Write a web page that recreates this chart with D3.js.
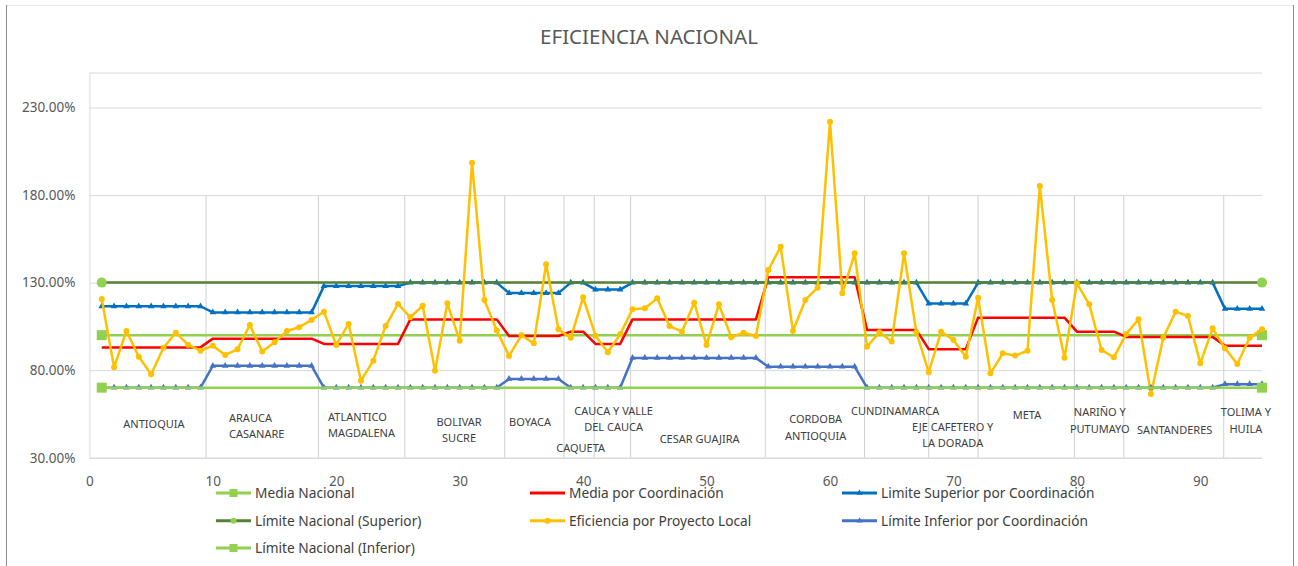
<!DOCTYPE html>
<html>
<head>
  <meta charset="utf-8">
  <title>Eficiencia Nacional</title>
  <script src="https://d3js.org/d3.v7.min.js"></script>
  <style>
    html, body { margin: 0; height: 100%; overflow: hidden; background: #fff; }
    #chart { width: 1298px; height: 566px; }
    text { font-family: "Noto Sans", "Open Sans", sans-serif; }
  </style>
</head>
<body>
  <div id="chart"></div>
  <script>
    // Regions (coordinaciones), number of projects in each, and step values
    const regions = ['ANTIOQUIA', 'ARAUCA CASANARE', 'ATLANTICO MAGDALENA', 'BOLIVAR SUCRE', 'BOYACA',
      'CAQUETA', 'CAUCA Y VALLE DEL CAUCA', 'CESAR GUAJIRA', 'CORDOBA ANTIOQUIA', 'CUNDINAMARCA',
      'EJE CAFETERO Y LA DORADA', 'META', 'NARIÑO Y PUTUMAYO', 'SANTANDERES', 'TOLIMA Y HUILA'];
    const regionCounts = [9, 9, 7, 8, 5, 2, 3, 11, 8, 5, 4, 8, 4, 8, 4];
    const mediaCoord  = [93, 98, 95, 109, 99.5, 102, 95, 109, 133, 103, 92, 110, 102, 99, 94];
    const limSupCoord = [116.5, 113, 128, 130, 124, 130, 126, 130, 130, 130, 118, 130, 130, 130, 115];
    const limInfCoord = [70, 82.5, 70, 70, 75, 70, 70, 87, 82, 70, 70, 70, 70, 70, 72];

    // Eficiencia por Proyecto Local (projects 1..95)
    const eficiencia = [
      120.6, 81.6, 102.4, 87.7, 77.6, 92.8, 101.4, 94.4, 91.1,
      94.0, 88.7, 91.9, 105.8, 90.6, 95.9, 102.4, 104.5, 108.7,
      113.4, 94.4, 106.4, 74.0, 85.4, 105.2, 117.8,
      110.2, 116.8, 79.7, 118.2, 96.8, 198.5, 120.1, 102.6,
      88.1, 99.9, 95.3, 140.5, 103.3,
      98.5, 121.6,
      99.7, 90.2, 100.5,
      114.8, 115.3, 121.0, 105.2, 102.0, 118.5, 94.4, 117.6, 98.8, 101.4, 99.5,
      137.2, 150.5, 102.4, 120.1, 127.1, 221.9, 123.9, 146.7,
      93.4, 101.6, 96.3, 146.7, 101.6,
      78.8, 102.0, 97.2, 87.7,
      121.4, 78.2, 89.6, 88.3, 91.1, 185.2, 120.1, 87.1,
      129.6, 117.6, 91.5, 87.3,
      100.7, 109.1, 66.4, 98.5, 113.4, 110.9, 83.9, 103.9,
      92.5, 83.5, 98.5, 103.3
    ];

    // National lines (only first and last project)
    const nacionalX = [1, 95];
    const mediaNacional = [100, 100];
    const limNacSup = [130, 130];
    const limNacInf = [70, 70];

    // Region separators and label anchors (data units)
    const separators = [9.45, 18.55, 25.55, 33.65, 38.45, 40.9, 43.85, 54.75, 62.8, 68, 72, 79.8, 83.8, 91.9];
    const regionLabels = [
      { lines: ['ANTIOQUIA'], x: 5.23, y: 47.0, anchor: 'middle' },
      { lines: ['ARAUCA', 'CASANARE'], x: 11.31, y: 50.6, anchor: 'start' },
      { lines: ['ATLANTICO', 'MAGDALENA'], x: 19.34, y: 51.0, anchor: 'start' },
      { lines: ['BOLIVAR', 'SUCRE'], x: 29.95, y: 48.3, anchor: 'middle' },
      { lines: ['BOYACA'], x: 35.7, y: 48.1, anchor: 'middle' },
      { lines: ['CAQUETA'], x: 39.8, y: 33.1, anchor: 'middle' },
      { lines: ['CAUCA Y VALLE', 'DEL CAUCA'], x: 42.47, y: 54.6, anchor: 'middle' },
      { lines: ['CESAR GUAJIRA'], x: 49.44, y: 38.4, anchor: 'middle' },
      { lines: ['CORDOBA', 'ANTIOQUIA'], x: 58.84, y: 49.8, anchor: 'middle' },
      { lines: ['CUNDINAMARCA'], x: 65.28, y: 54.6, anchor: 'middle' },
      { lines: ['EJE CAFETERO Y', 'LA DORADA'], x: 69.94, y: 45.4, anchor: 'middle' },
      { lines: ['META'], x: 75.96, y: 52.1, anchor: 'middle' },
      { lines: ['NARIÑO Y', 'PUTUMAYO'], x: 81.86, y: 53.6, anchor: 'middle' },
      { lines: ['SANTANDERES'], x: 87.93, y: 43.5, anchor: 'middle' },
      { lines: ['TOLIMA Y', 'HUILA'], x: 93.69, y: 53.6, anchor: 'middle' }
    ];

    const yTicks = [30, 80, 130, 180, 230];
    const xTicks = [0, 10, 20, 30, 40, 50, 60, 70, 80, 90];

    // expand step values per project
    function expand(vals) {
      const out = [];
      vals.forEach((v, i) => { for (let k = 0; k < regionCounts[i]; k++) out.push(v); });
      return out;
    }
    const projects = d3.range(1, eficiencia.length + 1);
    const toPts = (xs, ys) => xs.map((x, i) => ({ x: x, y: ys[i] }));

    const series = [
      { name: 'Media Nacional', pts: toPts(nacionalX, mediaNacional), color: '#92D050', marker: 'square', mColor: '#92D050', mSize: 10, width: 2.5 },
      { name: 'Media por Coordinación', pts: toPts(projects, expand(mediaCoord)), color: '#FF0000', marker: null, width: 2.5 },
      { name: 'Limite Superior por Coordinación', pts: toPts(projects, expand(limSupCoord)), color: '#0070C0', marker: 'triangle', mColor: '#0070C0', mSize: 6.5, width: 2.5 },
      { name: 'Límite Nacional (Superior)', pts: toPts(nacionalX, limNacSup), color: '#548235', marker: 'circle', mColor: '#92D050', mSize: 10, width: 2.5 },
      { name: 'Eficiencia por Proyecto Local', pts: toPts(projects, eficiencia), color: '#FFC000', marker: 'circle', mColor: '#FFC000', mSize: 6, width: 2.5 },
      { name: 'Límite Inferior por Coordinación', pts: toPts(projects, expand(limInfCoord)), color: '#4472C4', marker: 'triangle', mColor: '#4472C4', mSize: 6.5, width: 2.5 },
      { name: 'Límite Nacional (Inferior)', pts: toPts(nacionalX, limNacInf), color: '#92D050', marker: 'square', mColor: '#92D050', mSize: 10, width: 2.5 }
    ];

    const W = 1298, H = 566;
    const svg = d3.select('#chart').append('svg')
      .attr('width', W).attr('height', H);

    // chart frame
    svg.append('line').attr('x1', 6).attr('x2', 1294).attr('y1', 5.5).attr('y2', 5.5).attr('stroke', '#E6E6E6');
    svg.append('line').attr('x1', 6.5).attr('x2', 6.5).attr('y1', 5).attr('y2', H).attr('stroke', '#8C8C8C');
    svg.append('line').attr('x1', 1293.5).attr('x2', 1293.5).attr('y1', 5).attr('y2', H).attr('stroke', '#8C8C8C');

    const x = d3.scaleLinear().domain([0, 95]).range([89.4, 1262]);
    const y = d3.scaleLinear().domain([30, 250]).range([457.7, 72.5]);

    // title
    svg.append('text')
      .attr('x', 649).attr('y', 43.5)
      .attr('text-anchor', 'middle')
      .attr('font-size', '20.5px')
      .attr('fill', '#595959')
      .text('EFICIENCIA NACIONAL');

    // horizontal gridlines + y labels
    const yAxis = svg.append('g')
      .attr('transform', `translate(${x(0)},0)`)
      .call(d3.axisLeft(y).tickValues(yTicks).tickFormat(d => d.toFixed(2) + '%')
        .tickSize(-(x(95) - x(0))).tickPadding(14));
    yAxis.select('.domain').attr('stroke', '#D9D9D9');
    yAxis.selectAll('.tick line').attr('stroke', '#D9D9D9');
    yAxis.selectAll('.tick text').attr('font-size', '13.5px').attr('fill', '#595959')
      .attr('font-family', '"Noto Sans", sans-serif');

    // x labels
    const xAxis = svg.append('g')
      .attr('transform', `translate(0,${y(30)})`)
      .call(d3.axisBottom(x).tickValues(xTicks).tickSize(0).tickPadding(19));
    xAxis.select('.domain').remove();
    xAxis.selectAll('.tick text').attr('font-size', '13.5px').attr('fill', '#595959')
      .attr('font-family', '"Noto Sans", sans-serif');

    // region separators
    svg.append('g').selectAll('line')
      .data(separators).join('line')
      .attr('x1', d => x(d)).attr('x2', d => x(d))
      .attr('y1', y(180)).attr('y2', y(30))
      .attr('stroke', '#D0D0D0').attr('stroke-width', 1);

    // region labels
    const lbl = svg.append('g').selectAll('text')
      .data(regionLabels).join('text')
      .attr('x', d => x(d.x)).attr('y', d => y(d.y))
      .attr('text-anchor', d => d.anchor)
      .attr('font-size', '11px')
      .attr('fill', '#404040');
    lbl.selectAll('tspan')
      .data(d => d.lines.map((t, i) => ({ t, i, x: x(d.x) })))
      .join('tspan')
      .attr('x', d => d.x)
      .attr('dy', d => d.i === 0 ? 0 : 16.5)
      .text(d => d.t);

    function markerPath(type, size) {
      if (type === 'square') return d3.symbol(d3.symbolSquare, size * size)();
      if (type === 'circle') return d3.symbol(d3.symbolCircle, Math.PI * (size / 2) * (size / 2))();
      if (type === 'triangle') return d3.symbol(d3.symbolTriangle, size * size * 0.45)();
      return null;
    }

    const line = d3.line().x(d => x(d.x)).y(d => y(d.y));

    // draw series in legend order (later on top)
    series.forEach(s => {
      const g = svg.append('g').attr('class', 'series');
      g.append('path')
        .datum(s.pts)
        .attr('d', line)
        .attr('fill', 'none')
        .attr('stroke', s.color)
        .attr('stroke-width', s.width)
        .attr('stroke-linejoin', 'round');
      if (s.marker) {
        g.selectAll('path.m')
          .data(s.pts).join('path')
          .attr('class', 'm')
          .attr('transform', d => `translate(${x(d.x)},${y(d.y)})`)
          .attr('d', markerPath(s.marker, s.mSize))
          .attr('fill', s.mColor);
      }
    });

    // legend (3 columns, row-major like Excel)
    const legCols = [216, 530, 842];
    const legRows = [493, 520.7, 548];
    const leg = svg.append('g').selectAll('g')
      .data(series).join('g')
      .attr('transform', (d, i) => `translate(${legCols[i % 3]},${legRows[Math.floor(i / 3)]})`);
    leg.append('line')
      .attr('x1', 0).attr('x2', 35).attr('y1', 0).attr('y2', 0)
      .attr('stroke', d => d.color).attr('stroke-width', 3);
    leg.filter(d => d.marker)
      .append('path')
      .attr('transform', 'translate(17.5,0)')
      .attr('d', d => markerPath(d.marker, d.marker === 'triangle' ? 6 : (d.marker === 'square' ? 8 : 6)))
      .attr('fill', d => d.mColor);
    leg.append('text')
      .attr('x', 39).attr('y', 5)
      .attr('font-size', '13.7px')
      .attr('fill', '#404040')
      .text(d => d.name);
  </script>
</body>
</html>
